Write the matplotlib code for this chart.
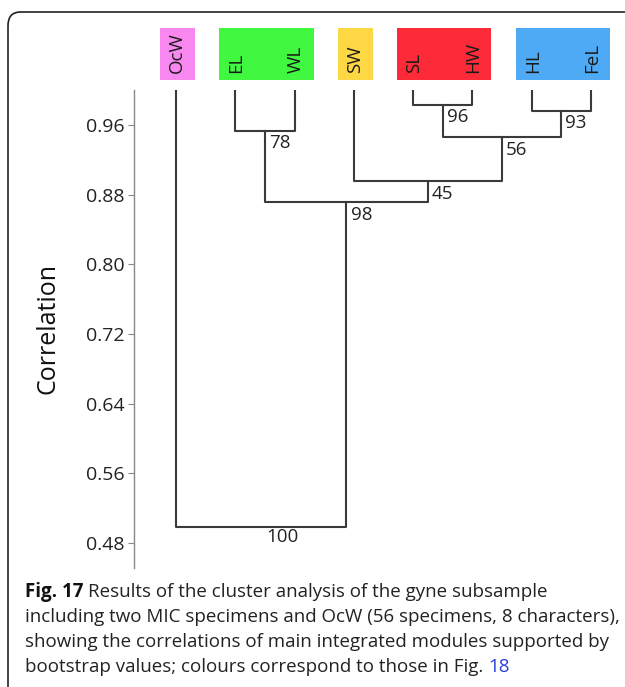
import matplotlib.pyplot as plt
from matplotlib.patches import Rectangle, FancyBboxPatch

# leaves in dendrogram order
leaves = ['OcW', 'EL', 'WL', 'SW', 'SL', 'HW', 'HL', 'FeL']
leaf_top = 1.0

# merges: (left child, right child, correlation, bootstrap)
# children are leaf names or indices into this list prefixed with 'n'
merges = [
    ('EL', 'WL', 0.953, 78),
    ('SL', 'HW', 0.983, 96),
    ('HL', 'FeL', 0.976, 93),
    ('n1', 'n2', 0.946, 56),
    ('SW', 'n3', 0.895, 45),
    ('n0', 'n4', 0.871, 98),
    ('OcW', 'n5', 0.498, 100),
]

# coloured modules: (first leaf, last leaf, colour)
modules = [
    ('OcW', 'OcW', '#f888f0'),
    ('EL', 'WL', '#40f840'),
    ('SW', 'SW', '#fdd744'),
    ('SL', 'HW', '#fd2a38'),
    ('HL', 'FeL', '#4faaf6'),
]

yticks = [0.48, 0.56, 0.64, 0.72, 0.80, 0.88, 0.96]

W, H = 625, 687
fig = plt.figure(figsize=(W / 100, H / 100), dpi=100)
plt.rcParams['font.family'] = ['Open Sans', 'DejaVu Sans']

# axes placed in pixel terms
ax_l, ax_r, ax_t, ax_b = 134, 620, 90, 568
ax = fig.add_axes([ax_l / W, 1 - ax_b / H, (ax_r - ax_l) / W, (ax_b - ax_t) / H])
ax.set_ylim(0.4513, 1.0)
ax.set_xlim(-0.708, 7.49)

line_kw = dict(color='#3a3a3a', lw=1.5, solid_capstyle='projecting')

pos = {}
for i, name in enumerate(leaves):
    pos[name] = (i, leaf_top)

for k, (a, b, h, boot) in enumerate(merges):
    xa, ya = pos[a]
    xb, yb = pos[b]
    ax.plot([xa, xa, xb, xb], [ya, h, h, yb], **line_kw)
    xm = (xa + xb) / 2
    pos['n%d' % k] = (xm, h)
    if k == len(merges) - 1:
        ax.text(xm + 0.35, h - 0.011, str(boot), ha='center', va='center',
                fontsize=13.5, color='#222222')
    else:
        ax.text(xm + 0.07, h - 0.004, str(boot), ha='left', va='top',
                fontsize=13.5, color='#222222')

# coloured header boxes with rotated leaf names
for first, last, col in modules:
    x0 = leaves.index(first) - 0.27
    x1 = leaves.index(last) + 0.32
    ax.add_patch(Rectangle((x0, 1.0115), x1 - x0, 0.0597, facecolor=col,
                           edgecolor='none', clip_on=False))
for i, name in enumerate(leaves):
    ax.text(i + 0.02, 1.019, name, rotation=90, ha='center', va='bottom',
            fontsize=13.5, color='#1a1a1a', clip_on=False)

ax.set_yticks(yticks)
ax.set_yticklabels(['%.2f' % v for v in yticks], fontsize=14, color='#222222')
ax.tick_params(axis='y', length=4, width=0.8, color='#888888', pad=3)
ax.set_xticks([])
for s in ['top', 'right', 'bottom']:
    ax.spines[s].set_visible(False)
ax.spines['left'].set_color('#888888')
ax.spines['left'].set_linewidth(1.0)
ax.set_ylabel('Correlation', fontsize=18, color='#111111', labelpad=18)

# rounded frame around figure and caption
frame = FancyBboxPatch((8 / W, -20 / H), 700 / W, (H - 12 + 20) / H,
                       boxstyle='round,pad=0,rounding_size=0.02',
                       transform=fig.transFigure, facecolor='none',
                       edgecolor='#222222', lw=1.2, clip_on=False)
fig.patches.append(frame)

cap_lines = [
    'including two MIC specimens and OcW (56 specimens, 8 characters),',
    'showing the correlations of main integrated modules supported by',
]
cap_y = [592, 617, 642, 667]
cap_fs = 13.5
t = fig.text(25 / W, 1 - cap_y[0] / H, 'Fig. 17', fontweight='bold',
             fontsize=cap_fs, va='center', ha='left', color='#111111')
fig.canvas.draw()
bb = t.get_window_extent()
fig.text((bb.x1 + 5) / W, 1 - cap_y[0] / H,
         'Results of the cluster analysis of the gyne subsample',
         fontsize=cap_fs, va='center', ha='left', color='#222222')
for line, y in zip(cap_lines, cap_y[1:3]):
    fig.text(25 / W, 1 - y / H, line, fontsize=cap_fs, va='center',
             ha='left', color='#222222')
t2 = fig.text(25 / W, 1 - cap_y[3] / H,
              'bootstrap values; colours correspond to those in Fig.',
              fontsize=cap_fs, va='center', ha='left', color='#222222')
fig.canvas.draw()
bb2 = t2.get_window_extent()
fig.text((bb2.x1 + 5) / W, 1 - cap_y[3] / H, '18', fontsize=cap_fs,
         va='center', ha='left', color='#2a3fd8')

fig.savefig('out.png', dpi=100)
